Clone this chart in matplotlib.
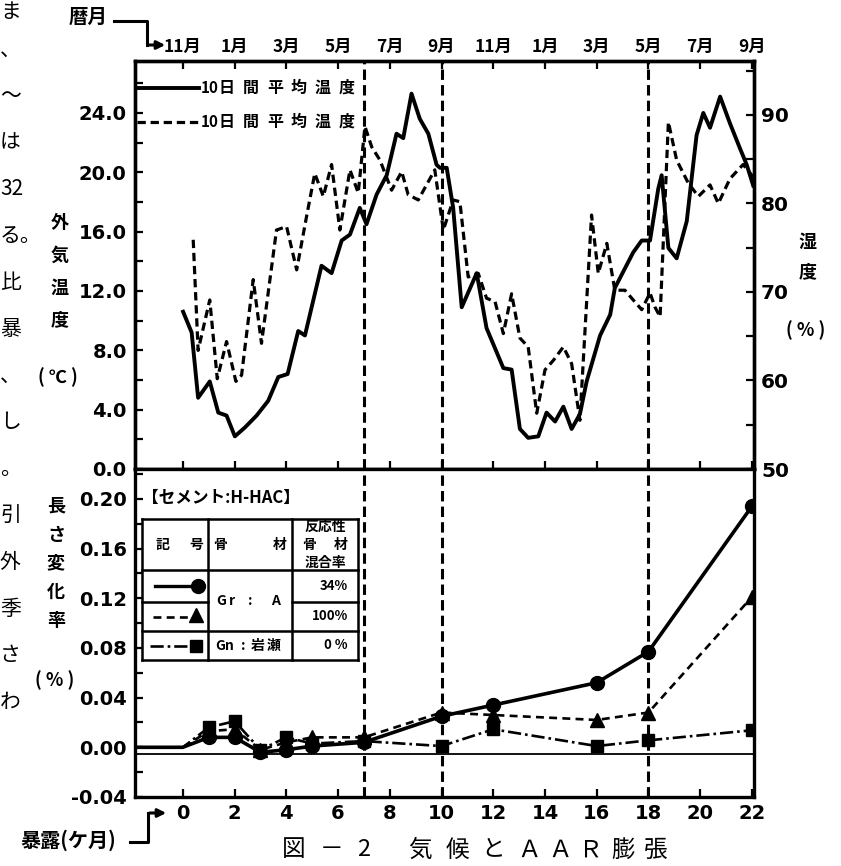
import matplotlib
matplotlib.use("Agg")
import matplotlib.pyplot as plt
from matplotlib.ticker import MultipleLocator, FormatStrFormatter

JP = ['Noto Sans CJK JP', 'DejaVu Sans']
NUM = 'DejaVu Sans'
plt.rcParams['font.family'] = JP

# ---------------- data ----------------
# 10-day mean outdoor temperature (deg C) vs exposure month
temp_month = [0.01, 0.34, 0.59, 1.04, 1.37, 1.69, 2.01, 2.40, 2.85, 3.30, 3.69, 4.05,
              4.46, 4.72, 5.36, 5.75, 6.14, 6.46, 6.84, 7.10, 7.49, 7.88, 8.26, 8.52,
              8.84, 9.16, 9.49, 9.81, 9.94, 10.20, 10.45, 10.78, 11.36, 11.74, 12.39,
              12.71, 13.03, 13.35, 13.74, 14.06, 14.39, 14.71, 15.03, 15.35, 15.61,
              16.13, 16.52, 16.70, 17.41, 17.74, 18.06, 18.38, 18.51, 18.77, 19.09,
              19.48, 19.86, 20.12, 20.38, 20.77, 21.15, 21.54, 21.80, 22.05]
temp_value = [10.6, 9.2, 4.8, 5.9, 3.8, 3.6, 2.2, 2.8, 3.6, 4.6, 6.2, 6.4,
              9.3, 9.0, 13.7, 13.2, 15.4, 15.8, 17.6, 16.5, 18.5, 19.8, 22.6, 22.3,
              25.3, 23.6, 22.6, 20.5, 20.3, 20.3, 17.6, 10.9, 13.2, 9.5, 6.8,
              6.7, 2.7, 2.1, 2.2, 3.8, 3.2, 4.2, 2.7, 3.7, 5.9,
              9.0, 10.4, 12.2, 14.6, 15.4, 15.4, 18.9, 19.8, 14.9, 14.2,
              16.7, 22.5, 24.0, 23.0, 25.1, 23.3, 21.6, 20.5, 19.1]

# 10-day mean humidity (%) vs exposure month
hum_month = [0.40, 0.59, 1.04, 1.33, 1.69, 2.05, 2.27, 2.72, 3.04, 3.62, 4.01, 4.40,
             4.78, 5.10, 5.43, 5.75, 6.07, 6.46, 6.78, 7.04, 7.30, 7.62, 8.07, 8.46,
             8.71, 9.10, 9.42, 9.74, 10.07, 10.45, 10.71, 11.03, 11.42, 11.74, 12.07,
             12.39, 12.71, 13.03, 13.35, 13.68, 14.00, 14.33, 14.71, 15.03, 15.35,
             15.80, 16.06, 16.39, 16.70, 17.09, 17.41, 17.74, 18.06, 18.25, 18.45,
             18.77, 19.09, 19.54, 19.93, 20.38, 20.70, 21.15, 21.66, 22.05]
hum_value = [75.9, 63.4, 69.1, 60.2, 64.4, 59.9, 60.6, 71.4, 64.2, 77.0, 77.4, 72.5,
             78.5, 83.4, 80.8, 84.4, 77.0, 83.8, 81.2, 88.7, 86.4, 84.9, 81.5, 83.6,
             81.0, 80.4, 82.1, 83.8, 77.0, 80.4, 80.2, 71.7, 72.1, 69.3, 68.9,
             65.3, 69.8, 64.8, 63.8, 56.3, 61.2, 62.3, 63.8, 61.9, 55.5,
             78.7, 72.1, 75.5, 70.2, 70.2, 69.1, 68.0, 69.9, 68.3, 67.2,
             89.2, 84.9, 82.3, 80.8, 82.1, 80.0, 82.8, 84.4, 83.0]

# length change (%) vs exposure month
exp_month = [-2, 0, 1, 2, 3, 4, 5, 7, 10, 12, 16, 18, 22]
exp_34 = [0.0, 0.0, 0.008, 0.008, -0.004, -0.002, 0.001, 0.004, 0.025, 0.034, 0.052, 0.077, 0.194]
exp_100 = [0.0, 0.0, 0.013, 0.0145, -0.002, 0.004, 0.008, 0.008, 0.028, 0.026, 0.022, 0.028, 0.121]
exp_0 = [0.0, 0.0, 0.016, 0.021, -0.002, 0.008, 0.003, 0.005, 0.001, 0.0145, 0.001, 0.0056, 0.0137]
ref_line = -0.005

event_months = [7, 10, 18]
exp_ticks = [0, 2, 4, 6, 8, 10, 12, 14, 16, 18, 20, 22]
cal_labels = ['11月', '1月', '3月', '5月', '7月', '9月', '11月', '1月', '3月', '5月', '7月', '9月']
temp_ticks = [0, 4, 8, 12, 16, 20, 24]
hum_ticks = [50, 60, 70, 80, 90]
len_ticks = [-0.04, 0.0, 0.04, 0.08, 0.12, 0.16, 0.20]

legend_rows = ['34%', '100%', '0 %']

# ---------------- layout ----------------
W, H = 841, 866
fig = plt.figure(figsize=(W / 100, H / 100), dpi=100)


def box(x0, y0, x1, y1):
    return [x0 / W, 1 - y1 / H, (x1 - x0) / W, (y1 - y0) / H]


L, R = 135, 754
T_TOP, T_BOT, B_BOT = 61, 469, 797

ax_t = fig.add_axes(box(L, T_TOP, R, T_BOT))
ax_h = ax_t.twinx()
ax_b = fig.add_axes(box(L, T_BOT, R, B_BOT))

SPW = 2.4
for a in (ax_t, ax_h, ax_b):
    for s in a.spines.values():
        s.set_linewidth(SPW)

XL = (-1.85, 22.08)

# top panel
ax_t.plot(temp_month, temp_value, color='k', lw=2.8)
ax_h.plot(hum_month, hum_value, color='k', lw=2.3, dashes=(2.6, 1.5))
for m in event_months:
    ax_t.axvline(m, color='k', lw=2.2, dashes=(3.4, 1.7))
    ax_b.axvline(m, color='k', lw=2.2, dashes=(3.4, 1.7))

ax_t.set_xlim(*XL)
ax_t.set_ylim(0, 27.5)
ax_h.set_ylim(50, 96.1)
ax_t.set_xticks(exp_ticks)
ax_t.set_xticklabels(cal_labels)
ax_t.tick_params(axis='x', which='both', top=True, bottom=True, labeltop=True,
                 labelbottom=False, direction='in', length=6, width=1.6, pad=4,
                 labelsize=12.5)
for lab in ax_t.get_xticklabels():
    lab.set_fontweight('bold')
    lab.set_family(JP)

ax_t.set_yticks(temp_ticks)
ax_t.yaxis.set_major_formatter(FormatStrFormatter('%.1f'))
ax_t.yaxis.set_minor_locator(MultipleLocator(2))
ax_t.tick_params(axis='y', which='both', direction='in', left=True, right=False,
                 length=6, width=1.6, pad=6, labelsize=14)
for lab in ax_t.get_yticklabels():
    lab.set_fontweight('bold')
    lab.set_family(NUM)

ax_h.set_yticks(hum_ticks)
ax_h.yaxis.set_minor_locator(MultipleLocator(5))
ax_h.tick_params(axis='y', which='both', direction='in', length=6, width=1.6,
                 pad=5, labelsize=14.5)
for lab in ax_h.get_yticklabels():
    lab.set_fontweight('bold')
    lab.set_family(NUM)

# bottom panel
mk = list(range(2, len(exp_month)))
ax_b.axhline(ref_line, color='k', lw=1.3)
ax_b.plot(exp_month, exp_34, color='k', lw=2.6, marker='o', ms=10, markevery=mk)
ax_b.plot(exp_month, exp_100, color='k', lw=1.9, dashes=(3, 2), marker='^', ms=10,
          markevery=mk)
ax_b.plot(exp_month, exp_0, color='k', lw=1.9, dashes=(5, 1.5, 1, 1.5), marker='s',
          ms=9, markevery=mk)
ax_b.set_xlim(*XL)
ax_b.set_ylim(-0.04, 0.224)
ax_b.set_xticks(exp_ticks)
ax_b.tick_params(axis='x', which='both', direction='in', length=6, width=1.6, pad=5,
                 labelsize=14, top=False)
ax_b.set_yticks(len_ticks)
ax_b.yaxis.set_major_formatter(FormatStrFormatter('%.2f'))
ax_b.yaxis.set_minor_locator(MultipleLocator(0.02))
ax_b.tick_params(axis='y', which='both', direction='in', length=6, width=1.6, pad=6,
                 labelsize=14)
for lab in ax_b.get_xticklabels() + ax_b.get_yticklabels():
    lab.set_fontweight('bold')
    lab.set_family(NUM)

# ---------------- overlay (annotation in pixel coords) ----------------
ov = fig.add_axes([0, 0, 1, 1])
ov.set_xlim(0, W)
ov.set_ylim(H, 0)
ov.axis('off')
ov.set_zorder(10)

B = dict(fontweight='bold', color='k', family=JP)

# legend of top panel
ov.plot([137, 199], [88, 88], color='k', lw=2.8)
ov.plot([137, 199], [122, 122], color='k', lw=2.3, dashes=(2.6, 1.5))
for yy in (88, 122):
    ov.text(201, yy, '10', ha='left', va='center', fontsize=11, **B)
    for i, ch in enumerate('日間平均温度'):
        ov.text(227 + 24 * i, yy, ch, ha='center', va='center', fontsize=11.5, **B)

# axis titles
for ch, yy in zip('外気温度', [222, 255, 288, 320]):
    ov.text(60, yy, ch, ha='center', va='center', fontsize=13, **B)
ov.text(58, 377, '( ℃ )', ha='center', va='center', fontsize=13, **B)
for ch, yy in zip('長さ変化率', [506, 535, 563, 592, 620]):
    ov.text(56, yy, ch, ha='center', va='center', fontsize=13, **B)
ov.text(55, 680, '( % )', ha='center', va='center', fontsize=13, **B)
for ch, yy in zip('湿度', [242, 272]):
    ov.text(808, yy, ch, ha='center', va='center', fontsize=13, **B)
ov.text(806, 330, '( % )', ha='center', va='center', fontsize=13, **B)

# 暦月 / 暴露 arrows
ov.text(88, 17, '暦月', ha='center', va='center', fontsize=14, **B)
ov.plot([114, 147, 147], [21, 21, 45], color='k', lw=2.2)
ov.annotate('', xy=(168, 45), xytext=(146, 45),
            arrowprops=dict(arrowstyle='-|>', lw=2.2, color='k', mutation_scale=12))
ov.text(68, 840, '暴露(ケ月)', ha='center', va='center', fontsize=14.5, **B)
ov.plot([130, 148, 148], [842, 842, 813], color='k', lw=2.2)
ov.annotate('', xy=(169, 813), xytext=(147, 813),
            arrowprops=dict(arrowstyle='-|>', lw=2.2, color='k', mutation_scale=12))

# caption
cap_chars = ['図', '－', '2', '気', '候', 'と', 'Ａ', 'Ａ', 'Ｒ', '膨', '張']
cap_x = [294, 332, 364, 420, 457, 493, 529, 560, 591, 623, 656]
for ch, xx in zip(cap_chars, cap_x):
    ov.text(xx, 850, ch, ha='center', va='center', fontsize=17, color='k', family=JP)

# body text of the page visible at the left margin
margin_chars = ['ま', '、', '〜', 'は', '32', 'る。', '比', '暴', '、', 'し', '。',
                '引', '外', '季', 'さ', 'わ']
for k, ch in enumerate(margin_chars):
    ov.text(0, max(12, 3 + 46.6 * k), ch, ha='left', va='center', fontsize=15,
            color='k', family=JP)

# legend table in bottom panel
ov.text(142, 498, '【セメント:H-HAC】', ha='left', va='center', fontsize=12, **B)
TL = dict(color='k', lw=1.8)
xs = [142, 208, 292, 358]
for xx in xs:
    ov.plot([xx, xx], [519, 660], **TL)
for yy in (519, 570, 631, 660):
    ov.plot([142, 358], [yy, yy], **TL)
ov.plot([142, 208], [602, 602], **TL)
ov.plot([292, 358], [602, 602], **TL)

ov.text(163, 545, '記', ha='center', va='center', fontsize=10, **B)
ov.text(196, 545, '号', ha='center', va='center', fontsize=10, **B)
ov.text(220, 545, '骨', ha='center', va='center', fontsize=10, **B)
ov.text(280, 545, '材', ha='center', va='center', fontsize=10, **B)
ov.text(325, 527, '反応性', ha='center', va='center', fontsize=10, **B)
ov.text(309, 545, '骨', ha='center', va='center', fontsize=10, **B)
ov.text(341, 545, '材', ha='center', va='center', fontsize=10, **B)
ov.text(325, 563, '混合率', ha='center', va='center', fontsize=10, **B)

for txt, yy in zip(legend_rows, [586, 616, 645]):
    ov.text(348, yy, txt, ha='right', va='center', fontsize=9.5, **B)

for ch, xx in zip(['G', 'r', ':', 'A'], [221, 232, 250, 276]):
    ov.text(xx, 601, ch, ha='center', va='center', fontsize=10, **B)
for ch, xx in zip(['Gn', ':', '岩', '瀬'], [225, 243, 258, 274]):
    ov.text(xx, 646, ch, ha='center', va='center', fontsize=10, **B)

ov.plot([155, 198], [586, 586], color='k', lw=2.4)
ov.plot([198], [586], 'ko', ms=10)
ov.plot([153, 196], [617, 617], color='k', lw=1.9, dashes=(3, 2))
ov.plot([196], [615], 'k^', ms=10)
ov.plot([150, 196], [646, 646], color='k', lw=1.9, dashes=(5, 1.5, 1, 1.5))
ov.plot([196], [646], 'ks', ms=9)

fig.savefig('out.png', dpi=100)
